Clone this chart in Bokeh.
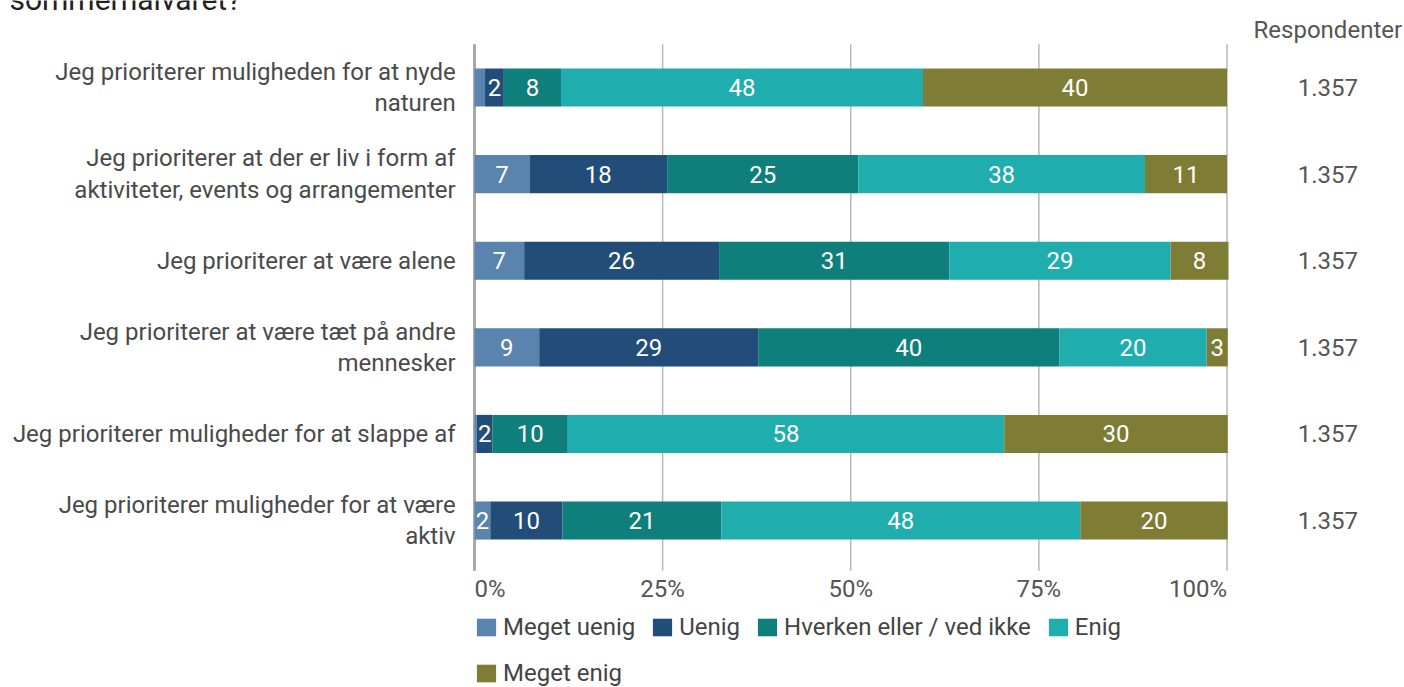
from bokeh.plotting import figure
from bokeh.models import ColumnDataSource, Range1d, Legend, LegendItem
from bokeh.core.properties import value
from bokeh.embed import file_html
from bokeh.resources import INLINE

categories = [
    "Jeg prioriterer muligheden for at nyde\nnaturen",
    "Jeg prioriterer at der er liv i form af\naktiviteter, events og arrangementer",
    "Jeg prioriterer at være alene",
    "Jeg prioriterer at være tæt på andre\nmennesker",
    "Jeg prioriterer muligheder for at slappe af",
    "Jeg prioriterer muligheder for at være\naktiv",
]
series_names = ["Meget uenig", "Uenig", "Hverken eller / ved ikke", "Enig", "Meget enig"]
meget_uenig = [1.4, 7.3, 6.6, 8.6, 0.3, 2.1]
uenig = [2.5, 18.3, 25.9, 29.1, 2.1, 9.6]
hverken = [7.6, 25.4, 30.6, 40.0, 10.0, 21.1]
enig = [48.1, 38.1, 29.4, 19.6, 58.0, 47.7]
meget_enig = [40.4, 10.9, 7.7, 2.8, 29.7, 19.6]
respondenter = ["1.357", "1.357", "1.357", "1.357", "1.357", "1.357"]
x_ticks = [0, 25, 50, 75, 100]
x_tick_labels = ["0%", "25%", "50%", "75%", "100%"]
colors = ["#5a83ad", "#224d79", "#0e7f7b", "#20adad", "#7e7c35"]

FONT = "Roboto"
W, H = 1404, 687
FS = "24px"

n = len(categories)
ys = [n - 0.5 - i for i in range(n)]
series = [meget_uenig, uenig, hverken, enig, meget_enig]
keys = ["s0", "s1", "s2", "s3", "s4"]

data = {"y": ys}
for k, s in zip(keys, series):
    data[k] = s
src = ColumnDataSource(data)

p = figure(width=W, height=H, output_backend="svg", toolbar_location=None,
           x_range=Range1d(-62.99, 123.59), y_range=Range1d(-1.428, 6.505),
           min_border=0, outline_line_color=None)
p.axis.visible = False
p.grid.visible = False
p.background_fill_color = "white"

# gridlines
gx = x_ticks
p.segment(x0=gx, x1=gx, y0=[-0.08] * len(gx), y1=[6.0] * len(gx),
          line_color="#b8b8b8", line_width=1.5)
p.segment(x0=[0], x1=[0], y0=[-0.08], y1=[6.0], line_color="#a8a8a8", line_width=3)

renderers = p.hbar_stack(keys, y="y", height=0.44, color=colors, source=src, line_width=0)

# segment labels
lx, ly, lt = [], [], []
for i in range(n):
    left = 0.0
    for s in series:
        v = s[i]
        if round(v) >= 2:
            lx.append(left + v / 2)
            ly.append(ys[i])
            lt.append(str(round(v)))
        left += v
p.text(x=lx, y=ly, text=lt, text_color="white", text_font=value(FONT),
       text_font_size=FS, text_align="center", text_baseline="middle")

# category labels
p.text(x=[-2.5] * n, y=ys, text=categories, text_color="#4a4a4a", text_font=value(FONT),
       text_font_size=FS, text_align="right", text_baseline="middle",
       text_line_height=1.12)

# x tick labels (first left-aligned, last right-aligned)
aligns = ["left"] + ["center"] * (len(x_ticks) - 2) + ["right"]
tick_src = ColumnDataSource(dict(x=x_ticks, y=[-0.285] * len(x_ticks),
                                 t=x_tick_labels, a=aligns))
p.text(x="x", y="y", text="t", text_align="a", source=tick_src, text_color="#555555",
       text_font=value(FONT), text_font_size=FS, text_baseline="middle")

# respondenter column
p.text(x=[113.4], y=[6.17], text=["Respondenter"], text_color="#555555",
       text_font=value(FONT), text_font_size=FS, text_align="center",
       text_baseline="middle")
p.text(x=[113.4] * n, y=ys, text=respondenter, text_color="#555555",
       text_font=value(FONT), text_font_size=FS, text_align="center",
       text_baseline="middle")

# cut-off title (only its last line's lower part is visible in the original)
p.text(x=[-61.8], y=[6.516], text=["sommerhalvåret?"], text_color="#222222",
       text_font=value(FONT), text_font_size="30px", text_align="left",
       text_baseline="alphabetic")

def mk_legend(items, loc):
    lg = Legend(items=items, location=loc, orientation="horizontal",
                label_text_font=FONT, label_text_font_size=FS,
                label_text_color="#444444", glyph_width=24, glyph_height=22,
                label_standoff=5, spacing=15, padding=0, margin=0,
                background_fill_alpha=0, border_line_color=None,
                label_height=22)
    return lg

items1 = [LegendItem(label=series_names[i], renderers=[renderers[i]]) for i in range(4)]
items2 = [LegendItem(label=series_names[4], renderers=[renderers[4]])]
p.add_layout(mk_legend(items1, (474, 46)))
p.add_layout(mk_legend(items2, (474, 0)))

open("out.html", "w").write(file_html(p, INLINE))
